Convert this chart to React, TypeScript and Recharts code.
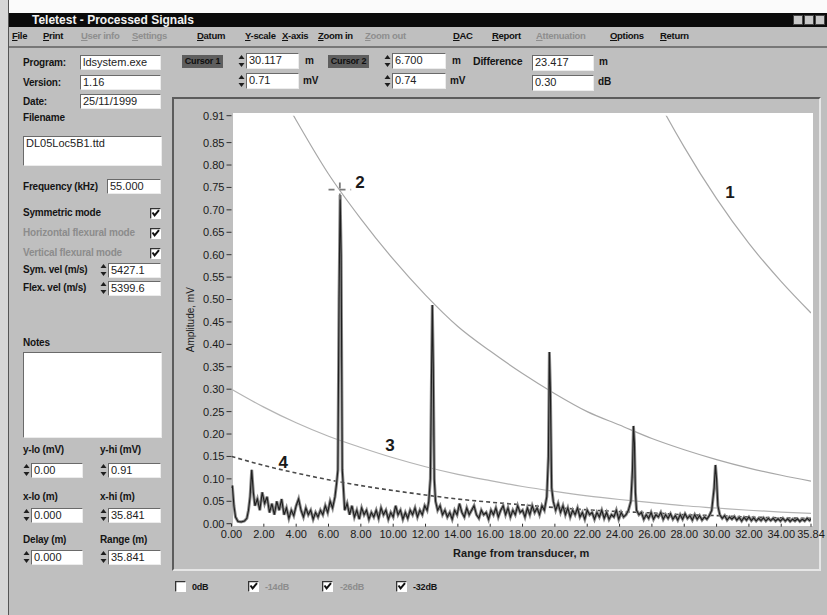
import React from "react";
import { LineChart, Line, XAxis, YAxis, ReferenceLine, ReferenceDot } from "recharts";

const UI_FONT = "'Liberation Sans', Arial, sans-serif";

// axis ticks
const rangeTicks = [0, 2, 4, 6, 8, 10, 12, 14, 16, 18, 20, 22, 24, 26, 28, 30, 32, 34, 35.84];
const ampTicks = [0, 0.05, 0.1, 0.15, 0.2, 0.25, 0.3, 0.35, 0.4, 0.45, 0.5, 0.55, 0.6, 0.65, 0.7, 0.75, 0.8, 0.85, 0.91];

// DAC curves read every 2 m (values above 0.91 fall outside the view)
const dacRange = [0, 2, 4, 6, 8, 10, 12, 14, 16, 18, 20, 22, 24, 26, 28, 30, 32, 34, 35.84];
const dac0dB = [null, null, null, null, null, null, null, null, null, null, null, 1.29, 1.12, 0.97, 0.84, 0.725, 0.625, 0.54, 0.47];
const dac14dB = [1.19, 1.03, 0.9, 0.78, 0.68, 0.59, 0.51, 0.44, 0.385, 0.335, 0.29, 0.25, 0.22, 0.19, 0.165, 0.143, 0.124, 0.108, 0.095];
const dac26dB = [0.3, 0.26, 0.225, 0.195, 0.17, 0.147, 0.127, 0.11, 0.096, 0.083, 0.072, 0.062, 0.054, 0.047, 0.04, 0.035, 0.03, 0.026, 0.023];
const dac32dB = [0.15, 0.13, 0.113, 0.098, 0.085, 0.074, 0.064, 0.055, 0.048, 0.042, 0.036, 0.031, 0.027, 0.024, 0.02, 0.018, 0.015, 0.013, 0.012];

// processed signal: [range m, amplitude mV]
const signal: [number, number][] = [
  [0, 0.08], [0.05, 0.085], [0.15, 0.04], [0.25, 0.015], [0.4, 0.005], [0.6, 0.004], [0.8, 0.006],
  [0.95, 0.012], [1.05, 0.03], [1.15, 0.06], [1.25, 0.12], [1.35, 0.07], [1.45, 0.04], [1.6, 0.055],
  [1.75, 0.03], [1.9, 0.07], [2.05, 0.045], [2.2, 0.06], [2.35, 0.025], [2.5, 0.045], [2.65, 0.02],
  [2.8, 0.05], [2.95, 0.03], [3.1, 0.055], [3.25, 0.02], [3.4, 0.035], [3.55, 0.012], [3.7, 0.03],
  [3.85, 0.018], [4.0, 0.04], [4.15, 0.055], [4.3, 0.03], [4.45, 0.015], [4.6, 0.035], [4.75, 0.02],
  [4.9, 0.03], [5.05, 0.01], [5.2, 0.025], [5.35, 0.015], [5.5, 0.03], [5.65, 0.02], [5.8, 0.04],
  [5.95, 0.025], [6.1, 0.05], [6.25, 0.035], [6.4, 0.06], [6.5, 0.09], [6.58, 0.12], [6.65, 0.5],
  [6.72, 0.733], [6.78, 0.6], [6.85, 0.12], [6.92, 0.08], [7.0, 0.03], [7.15, 0.045], [7.3, 0.02],
  [7.45, 0.04], [7.6, 0.015], [7.75, 0.03], [7.9, 0.01], [8.05, 0.035], [8.2, 0.02], [8.35, 0.03],
  [8.5, 0.01], [8.65, 0.025], [8.8, 0.015], [8.95, 0.03], [9.1, 0.012], [9.25, 0.035], [9.4, 0.02],
  [9.55, 0.03], [9.7, 0.01], [9.85, 0.025], [10.0, 0.015], [10.15, 0.04], [10.3, 0.02], [10.45, 0.03],
  [10.6, 0.01], [10.75, 0.025], [10.9, 0.012], [11.05, 0.03], [11.2, 0.02], [11.35, 0.035], [11.5, 0.015],
  [11.65, 0.03], [11.8, 0.02], [11.95, 0.04], [12.1, 0.03], [12.2, 0.05], [12.3, 0.1], [12.36, 0.3],
  [12.42, 0.488], [12.48, 0.35], [12.54, 0.1], [12.62, 0.05], [12.75, 0.03], [12.9, 0.04], [13.05, 0.02],
  [13.2, 0.03], [13.35, 0.015], [13.5, 0.025], [13.65, 0.01], [13.8, 0.03], [13.95, 0.02], [14.1, 0.045],
  [14.25, 0.025], [14.4, 0.015], [14.55, 0.035], [14.7, 0.02], [14.85, 0.03], [15.0, 0.04], [15.15, 0.02],
  [15.3, 0.012], [15.45, 0.03], [15.6, 0.02], [15.75, 0.025], [15.9, 0.01], [16.05, 0.03], [16.2, 0.02],
  [16.35, 0.035], [16.5, 0.015], [16.65, 0.03], [16.8, 0.04], [16.95, 0.02], [17.1, 0.035], [17.25, 0.015],
  [17.4, 0.03], [17.55, 0.02], [17.7, 0.04], [17.85, 0.025], [18.0, 0.03], [18.15, 0.015], [18.3, 0.035],
  [18.45, 0.02], [18.6, 0.04], [18.75, 0.025], [18.9, 0.035], [19.05, 0.02], [19.2, 0.04], [19.35, 0.03],
  [19.5, 0.06], [19.6, 0.15], [19.66, 0.383], [19.72, 0.3], [19.8, 0.08], [19.9, 0.05], [20.05, 0.03],
  [20.2, 0.045], [20.35, 0.025], [20.5, 0.04], [20.65, 0.02], [20.8, 0.035], [20.95, 0.015], [21.1, 0.03],
  [21.25, 0.02], [21.4, 0.035], [21.55, 0.015], [21.7, 0.025], [21.85, 0.01], [22.0, 0.03], [22.15, 0.02],
  [22.3, 0.025], [22.45, 0.01], [22.6, 0.025], [22.75, 0.015], [22.9, 0.03], [23.05, 0.012], [23.2, 0.025],
  [23.35, 0.01], [23.5, 0.02], [23.65, 0.015], [23.8, 0.03], [23.95, 0.01], [24.1, 0.025], [24.25, 0.015],
  [24.4, 0.02], [24.55, 0.03], [24.7, 0.05], [24.8, 0.12], [24.86, 0.218], [24.92, 0.18], [24.98, 0.07],
  [25.05, 0.03], [25.2, 0.02], [25.35, 0.025], [25.5, 0.01], [25.65, 0.02], [25.8, 0.012], [25.95, 0.025],
  [26.1, 0.01], [26.25, 0.02], [26.4, 0.015], [26.55, 0.025], [26.7, 0.01], [26.85, 0.02], [27.0, 0.012],
  [27.15, 0.022], [27.3, 0.01], [27.45, 0.018], [27.6, 0.008], [27.75, 0.02], [27.9, 0.01], [28.05, 0.022],
  [28.2, 0.012], [28.35, 0.018], [28.5, 0.008], [28.65, 0.02], [28.8, 0.01], [28.95, 0.018], [29.1, 0.008],
  [29.25, 0.015], [29.4, 0.01], [29.55, 0.018], [29.7, 0.03], [29.85, 0.08], [29.93, 0.131], [30.0, 0.1],
  [30.08, 0.04], [30.2, 0.02], [30.35, 0.012], [30.5, 0.018], [30.65, 0.008], [30.8, 0.015], [30.95, 0.01],
  [31.1, 0.016], [31.25, 0.008], [31.4, 0.014], [31.55, 0.006], [31.7, 0.014], [31.85, 0.008], [32.0, 0.015],
  [32.15, 0.007], [32.3, 0.013], [32.45, 0.006], [32.6, 0.012], [32.75, 0.007], [32.9, 0.013], [33.05, 0.006],
  [33.2, 0.012], [33.35, 0.007], [33.5, 0.012], [33.65, 0.006], [33.8, 0.011], [33.95, 0.006], [34.1, 0.012],
  [34.25, 0.006], [34.4, 0.011], [34.55, 0.005], [34.7, 0.01], [34.85, 0.006], [35.0, 0.011], [35.15, 0.005],
  [35.3, 0.01], [35.45, 0.006], [35.6, 0.012], [35.75, 0.007], [35.84, 0.01],
];

// curve numbers written on the plot, and the cursor 2 cross
const curveNotes = [
  { id: "1", x: 30.83, y: 0.741 },
  { id: "2", x: 7.95, y: 0.763 },
  { id: "3", x: 9.8, y: 0.176 },
  { id: "4", x: 3.2, y: 0.138 },
];
const cursor2 = { x: 6.7, y: 0.745 };

const dacRows = dacRange.map((x, i) => ({ x, c0: dac0dB[i], c14: dac14dB[i], c26: dac26dB[i], c32: dac32dB[i] }));
const signalRows = signal.map(([x, amp]) => ({ x, amp }));

const GRAY = "#bfbfbf";

function Txt({ x, y, children, size = 10, bold = true, dim = false, style }: any) {
  return (
    <div style={{ position: "absolute", left: x, top: y - 7, fontSize: size, lineHeight: "14px", fontWeight: bold ? 700 : 400, color: dim ? "#8c8c8c" : "#141414", whiteSpace: "nowrap", letterSpacing: -0.2, ...style }}>
      {children}
    </div>
  );
}

function Box({ x, y, w, h, children }: any) {
  return (
    <div style={{ position: "absolute", left: x, top: y, width: w, height: h, boxSizing: "border-box", background: "#fff", borderTop: "1px solid #6a6a6a", borderLeft: "1px solid #6a6a6a", borderRight: "1px solid #ececec", borderBottom: "1px solid #ececec", fontSize: 11, lineHeight: "13px", paddingLeft: 2, color: "#222", whiteSpace: "nowrap", overflow: "hidden" }}>
      {children}
    </div>
  );
}

function Spin({ x, y }: any) {
  return (
    <svg style={{ position: "absolute", left: x, top: y }} width={7} height={14}>
      <path d="M3.5 1 L6.5 5 L0.5 5 Z" fill="#1e1e1e" />
      <path d="M3.5 13 L6.5 9 L0.5 9 Z" fill="#1e1e1e" />
    </svg>
  );
}

function Check({ x, y, on = true }: any) {
  return (
    <svg style={{ position: "absolute", left: x, top: y }} width={11} height={11}>
      <rect x={0} y={0} width={11} height={11} fill="#fff" />
      <path d="M0.5 10.5 V0.5 H10.5" fill="none" stroke="#333" strokeWidth={1.6} />
      {on && <path d="M2.5 4.5 L4.6 7.4 L9 2.2" fill="none" stroke="#111" strokeWidth={2} />}
    </svg>
  );
}

function MenuItem({ x, label, dim = false }: any) {
  return (
    <div style={{ position: "absolute", left: x, top: 29, fontSize: 9.5, lineHeight: "13px", fontWeight: 700, color: dim ? "#8e8e8e" : "#111", letterSpacing: -0.3, whiteSpace: "nowrap" }}>
      <span style={{ textDecoration: "underline" }}>{label[0]}</span>
      {label.slice(1)}
    </div>
  );
}

function CursorTag({ x, label }: any) {
  return (
    <div style={{ position: "absolute", left: x, top: 55, width: 41, height: 13, background: "#5e5e5e", fontSize: 9, fontWeight: 700, color: "#0e0e0e", lineHeight: "13px", textAlign: "center", whiteSpace: "nowrap", letterSpacing: -0.2 }}>
      {label}
    </div>
  );
}

function SignalChart() {
  return (
    <div style={{ position: "absolute", left: 173, top: 98 }}>
      <LineChart width={654} height={472} margin={{ top: 17.7, right: 16, bottom: 0, left: 0 }}>
        <XAxis
          type="number"
          dataKey="x"
          domain={[0, 35.84]}
          ticks={rangeTicks}
          interval={0}
          allowDataOverflow
          tickFormatter={(v: number) => v.toFixed(2)}
          tick={{ fontSize: 11, fill: "#1a1a1a", fontFamily: UI_FONT }}
          tickSize={3}
          tickMargin={3}
          tickLine={{ stroke: "#333" }}
          axisLine={false}
          height={46.3}
          label={{ value: "Range from transducer, m", position: "insideBottom", offset: 13, fontSize: 11, fontWeight: 700, fill: "#1a1a1a", fontFamily: UI_FONT }}
        />
        <YAxis
          type="number"
          domain={[0, 0.91]}
          ticks={ampTicks}
          interval={0}
          allowDataOverflow
          tickFormatter={(v: number) => v.toFixed(2)}
          tick={{ fontSize: 11, fill: "#1a1a1a", fontFamily: UI_FONT }}
          tickSize={5}
          tickMargin={2}
          tickLine={{ stroke: "#333" }}
          axisLine={false}
          width={58.5}
          label={{ value: "Amplitude, mV", angle: -90, position: "insideLeft", offset: 17, fontSize: 10, fill: "#1a1a1a", fontFamily: UI_FONT, style: { textAnchor: "middle" } }}
        />
        <Line data={dacRows} dataKey="c0" type="monotone" stroke="#a8a8a8" strokeWidth={1.2} dot={false} isAnimationActive={false} />
        <Line data={dacRows} dataKey="c14" type="monotone" stroke="#a8a8a8" strokeWidth={1.2} dot={false} isAnimationActive={false} />
        <Line data={dacRows} dataKey="c26" type="monotone" stroke="#b4b4b4" strokeWidth={1.2} dot={false} isAnimationActive={false} />
        <Line data={dacRows} dataKey="c32" type="monotone" stroke="#4a4a4a" strokeWidth={1.6} strokeDasharray="4 3" dot={false} isAnimationActive={false} />
        <Line data={signalRows} dataKey="amp" type="linear" stroke="#8a8a8a" strokeWidth={3} dot={false} isAnimationActive={false} />
        <Line data={signalRows} dataKey="amp" type="linear" stroke="#1e1e1e" strokeWidth={1.1} dot={false} isAnimationActive={false} />
        <ReferenceLine segment={[{ x: cursor2.x - 0.7, y: cursor2.y }, { x: cursor2.x + 0.7, y: cursor2.y }]} stroke="#7a7a7a" strokeWidth={1.8} strokeDasharray="6 5" />
        <ReferenceLine segment={[{ x: cursor2.x, y: cursor2.y - 0.022 }, { x: cursor2.x, y: cursor2.y + 0.022 }]} stroke="#7a7a7a" strokeWidth={1.8} strokeDasharray="6 5" />
        {curveNotes.map((n) => (
          <ReferenceDot key={n.id} x={n.x} y={n.y} r={0} fill="none" stroke="none" label={{ value: n.id, position: "center", fontSize: 17, fontWeight: 700, fill: "#1a1a1a", fontFamily: UI_FONT }} />
        ))}
      </LineChart>
    </div>
  );
}

export default function App() {
  return (
    <div style={{ position: "absolute", left: 0, top: 0, width: 827, height: 615, overflow: "hidden", background: GRAY, fontFamily: UI_FONT }}>
      {/* top strip and window title */}
      <div style={{ position: "absolute", left: 0, top: 0, width: 827, height: 13, background: "#fbfbfb" }} />
      <div style={{ position: "absolute", left: 0, top: 13, width: 827, height: 14, background: "#0b0b0b", overflow: "hidden" }}>
        <div style={{ position: "absolute", left: 32, top: 0, fontSize: 12, fontWeight: 700, color: "#f2f2f2", lineHeight: "14px", whiteSpace: "nowrap" }}>Teletest - Processed Signals</div>
        {[793, 804, 815].map((bx) => (
          <div key={bx} style={{ position: "absolute", left: bx, top: 2, width: 10, height: 10, background: "#c8c8c8", border: "1px solid #444", boxSizing: "border-box" }} />
        ))}
      </div>
      <div style={{ position: "absolute", left: 0, top: 0, width: 9, height: 615, background: "#d6d6d6", borderRight: "1px solid #555", boxSizing: "border-box" }} />

      {/* menu */}
      <MenuItem x={12} label="File" />
      <MenuItem x={43} label="Print" />
      <MenuItem x={81} label="User info" dim />
      <MenuItem x={132} label="Settings" dim />
      <MenuItem x={197} label="Datum" />
      <MenuItem x={245} label="Y-scale" />
      <MenuItem x={282} label="X-axis" />
      <MenuItem x={318} label="Zoom in" />
      <MenuItem x={365} label="Zoom out" dim />
      <MenuItem x={453} label="DAC" />
      <MenuItem x={492} label="Report" />
      <MenuItem x={536} label="Attenuation" dim />
      <MenuItem x={610} label="Options" />
      <MenuItem x={660} label="Return" />
      <div style={{ position: "absolute", left: 9, top: 46, width: 818, height: 2, background: "#777" }} />

      {/* cursor toolbar */}
      <CursorTag x={182} label="Cursor 1" />
      <Spin x={238} y={54} />
      <Box x={246} y={53} w={53} h={16}>30.117</Box>
      <Txt x={305} y={61}>m</Txt>
      <Spin x={238} y={74} />
      <Box x={246} y={73} w={53} h={16}>0.71</Box>
      <Txt x={303} y={81}>mV</Txt>
      <CursorTag x={328} label="Cursor 2" />
      <Spin x={384} y={54} />
      <Box x={392} y={53} w={54} h={16}>6.700</Box>
      <Txt x={452} y={61}>m</Txt>
      <Spin x={384} y={74} />
      <Box x={392} y={73} w={54} h={16}>0.74</Box>
      <Txt x={450} y={81}>mV</Txt>
      <Txt x={473} y={61} size={10.5}>Difference</Txt>
      <Box x={532} y={55} w={62} h={16}>23.417</Box>
      <Txt x={599} y={62}>m</Txt>
      <Box x={532} y={75} w={62} h={16}>0.30</Box>
      <Txt x={598} y={82}>dB</Txt>

      {/* left settings panel */}
      <Txt x={23} y={63}>Program:</Txt>
      <Box x={80} y={55} w={81} h={15}>ldsystem.exe</Box>
      <Txt x={23} y={83}>Version:</Txt>
      <Box x={80} y={75} w={81} h={15}>1.16</Box>
      <Txt x={23} y={102}>Date:</Txt>
      <Box x={80} y={94} w={81} h={15}>25/11/1999</Box>
      <Txt x={23} y={118}>Filename</Txt>
      <Box x={23} y={136} w={139} h={30}>DL05Loc5B1.ttd</Box>
      <Txt x={23} y={187}>Frequency (kHz)</Txt>
      <Box x={107} y={179} w={54} h={15}>55.000</Box>
      <Txt x={23} y={213}>Symmetric mode</Txt>
      <Check x={150} y={208} />
      <Txt x={23} y={233} dim>Horizontal flexural mode</Txt>
      <Check x={150} y={228} />
      <Txt x={23} y={253} dim>Vertical flexural mode</Txt>
      <Check x={150} y={248} />
      <Txt x={23} y={270}>Sym. vel (m/s)</Txt>
      <Spin x={100} y={263} />
      <Box x={108} y={263} w={53} h={15}>5427.1</Box>
      <Txt x={23} y={288}>Flex. vel (m/s)</Txt>
      <Spin x={100} y={281} />
      <Box x={108} y={281} w={53} h={15}>5399.6</Box>
      <Txt x={23} y={343}>Notes</Txt>
      <Box x={23} y={352} w={139} h={86}>{""}</Box>
      <Txt x={23} y={450}>y-lo (mV)</Txt>
      <Txt x={100} y={450}>y-hi (mV)</Txt>
      <Spin x={23} y={463} />
      <Box x={31} y={463} w={52} h={15}>0.00</Box>
      <Spin x={100} y={463} />
      <Box x={108} y={463} w={53} h={15}>0.91</Box>
      <Txt x={23} y={497}>x-lo (m)</Txt>
      <Txt x={100} y={497}>x-hi (m)</Txt>
      <Spin x={23} y={508} />
      <Box x={31} y={508} w={52} h={15}>0.000</Box>
      <Spin x={100} y={508} />
      <Box x={108} y={508} w={53} h={15}>35.841</Box>
      <Txt x={23} y={540}>Delay (m)</Txt>
      <Txt x={100} y={540}>Range (m)</Txt>
      <Spin x={23} y={550} />
      <Box x={31} y={550} w={52} h={15}>0.000</Box>
      <Spin x={100} y={550} />
      <Box x={108} y={550} w={53} h={15}>35.841</Box>

      {/* graph panel */}
      <div style={{ position: "absolute", left: 172, top: 97, width: 649, height: 474, boxSizing: "border-box", borderTop: "2px solid #5c5c5c", borderLeft: "2px solid #5c5c5c", borderRight: "2px solid #e6e6e6", borderBottom: "2px solid #e6e6e6" }} />
      <div style={{ position: "absolute", left: 233, top: 113, width: 580, height: 413, background: "#ffffff" }} />
      <SignalChart />

      {/* DAC curve toggles */}
      <Check x={175} y={581} on={false} />
      <Txt x={192} y={587} size={9}>0dB</Txt>
      <Check x={248} y={581} />
      <Txt x={265} y={587} size={9} dim>-14dB</Txt>
      <Check x={322} y={581} />
      <Txt x={340} y={587} size={9} dim>-26dB</Txt>
      <Check x={396} y={581} />
      <Txt x={413} y={587} size={9}>-32dB</Txt>
    </div>
  );
}
